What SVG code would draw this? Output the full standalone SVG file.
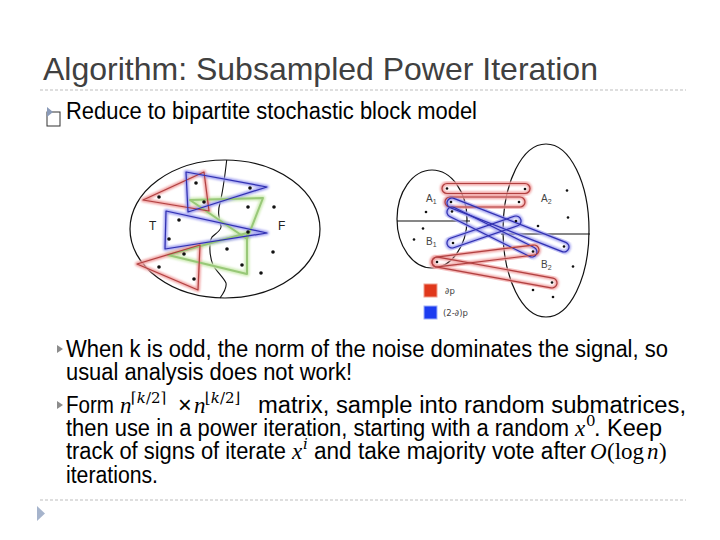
<svg xmlns="http://www.w3.org/2000/svg" width="720" height="540" viewBox="0 0 720 540">
<defs>
<filter id="blur" x="-20%" y="-20%" width="140%" height="140%"><feGaussianBlur stdDeviation="1.2"/></filter>
<style>
.title{font-family:"Liberation Sans",Arial,sans-serif;font-size:32px;fill:#404040}
.body{font-family:"Liberation Sans",Arial,sans-serif;font-size:23.5px;fill:#000}
.mi{font-family:"Liberation Serif","DejaVu Serif",serif;font-style:italic;font-size:23px;fill:#000}
.mr{font-family:"Liberation Serif","DejaVu Serif",serif;font-size:23px;fill:#000}
.sup{font-family:"DejaVu Serif","Liberation Serif",serif;font-size:15px;fill:#000}
.dash{stroke:#bdbdbd;stroke-width:1;stroke-dasharray:3 2}
.bul{fill:#8c8c8c}
.ell{fill:none;stroke:#111;stroke-width:1.2}
.dot{fill:#111}
.lbl{font-family:"Liberation Sans",Arial,sans-serif;font-size:12px;fill:#222}
.lbl2{font-family:"Liberation Sans",Arial,sans-serif;font-size:10px;fill:#444}
.lg{font-family:"DejaVu Sans","Liberation Sans",sans-serif;font-size:8.5px;fill:#444}
.gr{fill:none;stroke:#f0a0a0;stroke-width:4;filter:url(#blur);stroke-linejoin:round}
.gb{fill:none;stroke:#a0a0f0;stroke-width:4;filter:url(#blur);stroke-linejoin:round}
.gg{fill:none;stroke:#d0ecb8;stroke-width:5;filter:url(#blur);stroke-linejoin:round}
.tr{fill:none;stroke:#b04040;stroke-width:1.2;stroke-linejoin:round}
.tb{fill:none;stroke:#3030b0;stroke-width:1.2;stroke-linejoin:round}
.tg{fill:none;stroke:#98c878;stroke-width:2;stroke-linejoin:round}
</style>
</defs>
<rect width="720" height="540" fill="#fff"/>

<g id="header">
<text class="title" x="43" y="80">Algorithm: Subsampled Power Iteration</text>
<line class="dash" x1="40" y1="90" x2="686" y2="90"/>
</g>

<g id="bullet-reduce">
<rect x="47" y="112" width="13" height="14" fill="none" stroke="#333" stroke-width="1"/>
<polygon points="47,107 47,117 53,112" fill="#8a9ab8"/>
<text class="body" x="66" y="119" textLength="411" lengthAdjust="spacingAndGlyphs">Reduce to bipartite stochastic block model</text>
</g>

<g id="left-figure">
<ellipse class="ell" cx="225" cy="229" rx="95" ry="69"/>
<path fill="none" stroke="#111" stroke-width="1.1" d="M226.7,160 C225,175 222,195 220,203 C218,210 218,215 221,226 C222,230 215,234 212,237 C209,242 209,255 213,265 C216,271 224,278 226,283 C227,288 223,294 220,298"/>
<g id="triangles-glow">
<polygon class="gg" points="190,200 263,198 247,239"/>
<polygon class="gg" points="168,255 247,233 247,274"/>
<polygon class="gr" points="143,200 204,172 209,211"/>
<polygon class="gb" points="186,172 267,187 188,212"/>
<polygon class="gb" points="166,211 267,233 165,249"/>
<polygon class="gr" points="137,264 200,245 198,290"/>
</g>
<g id="triangles">
<polygon class="tg" points="190,200 263,198 247,239"/>
<polygon class="tg" points="168,255 247,233 247,274"/>
<polygon class="tr" points="143,200 204,172 209,211"/>
<polygon class="tb" points="186,172 267,187 188,212"/>
<polygon class="tb" points="166,211 267,233 165,249"/>
<polygon class="tr" points="137,264 200,245 198,290"/>
</g>
<g id="left-dots">
<circle class="dot" cx="196" cy="183" r="1.8"/>
<circle class="dot" cx="250" cy="188" r="1.8"/>
<circle class="dot" cx="159" cy="197" r="1.8"/>
<circle class="dot" cx="204" cy="202" r="1.8"/>
<circle class="dot" cx="248" cy="207" r="1.8"/>
<circle class="dot" cx="274" cy="207" r="1.8"/>
<circle class="dot" cx="179" cy="220" r="1.8"/>
<circle class="dot" cx="248" cy="232" r="1.8"/>
<circle class="dot" cx="169" cy="239" r="1.8"/>
<circle class="dot" cx="227" cy="249" r="1.8"/>
<circle class="dot" cx="273" cy="252" r="1.8"/>
<circle class="dot" cx="184" cy="254" r="1.8"/>
<circle class="dot" cx="159" cy="267" r="1.8"/>
<circle class="dot" cx="242" cy="265" r="1.8"/>
<circle class="dot" cx="261" cy="273" r="1.8"/>
<circle class="dot" cx="194" cy="279" r="1.8"/>
</g>
<text class="lbl" x="149" y="230">T</text>
<text class="lbl" x="278" y="230">F</text>
</g>

<g id="right-figure">
<ellipse class="ell" cx="432" cy="219" rx="35" ry="49"/>
<ellipse class="ell" cx="546" cy="230.5" rx="43" ry="86.5"/>
<line x1="397" y1="221" x2="470" y2="221" stroke="#111" stroke-width="1.2"/>
<line x1="501" y1="234" x2="590" y2="234" stroke="#111" stroke-width="1.2"/>
<g id="loops-glow">
<rect class="gr" x="442" y="183.5" width="88" height="10" rx="5"/>
<rect class="gr" x="445" y="197" width="80" height="10" rx="5"/>
<rect class="gb" x="-5" y="-5" width="130.3" height="10" rx="5" transform="translate(452,203) rotate(21.45)"/>
<rect class="gb" x="-5" y="-5" width="99.4" height="10" rx="5" transform="translate(452,212) rotate(26.57)"/>
<rect class="gb" x="-5" y="-5" width="77.7" height="10" rx="5" transform="translate(452,243) rotate(-18.97)"/>
<rect class="gr" x="-5" y="-5" width="107.7" height="10" rx="5" transform="translate(437,262) rotate(-7.05)"/>
<rect class="gr" x="-5" y="-5" width="126.9" height="10" rx="5" transform="translate(437,262) rotate(10.35)"/>
</g>
<g id="loops">
<rect class="tr" x="442" y="183.5" width="88" height="10" rx="5"/>
<rect class="tr" x="445" y="197" width="80" height="10" rx="5"/>
<rect class="tb" x="-5" y="-5" width="130.3" height="10" rx="5" transform="translate(452,203) rotate(21.45)"/>
<rect class="tb" x="-5" y="-5" width="99.4" height="10" rx="5" transform="translate(452,212) rotate(26.57)"/>
<rect class="tb" x="-5" y="-5" width="77.7" height="10" rx="5" transform="translate(452,243) rotate(-18.97)"/>
<rect class="tr" x="-5" y="-5" width="107.7" height="10" rx="5" transform="translate(437,262) rotate(-7.05)"/>
<rect class="tr" x="-5" y="-5" width="126.9" height="10" rx="5" transform="translate(437,262) rotate(10.35)"/>
</g>
<g id="right-dots">
<circle class="dot" cx="447" cy="188.5" r="1.3"/>
<circle class="dot" cx="525" cy="189" r="1.3"/>
<circle class="dot" cx="451" cy="202" r="1.3"/>
<circle class="dot" cx="519" cy="202" r="1.3"/>
<circle class="dot" cx="452" cy="211.5" r="1.3"/>
<circle class="dot" cx="564" cy="246.5" r="1.3"/>
<circle class="dot" cx="533" cy="251.5" r="1.3"/>
<circle class="dot" cx="453" cy="243" r="1.3"/>
<circle class="dot" cx="516" cy="221" r="1.3"/>
<circle class="dot" cx="437" cy="262" r="1.3"/>
<circle class="dot" cx="552" cy="282.5" r="1.3"/>
<circle class="dot" cx="426" cy="212" r="1.3"/>
<circle class="dot" cx="423" cy="228.5" r="1.3"/>
<circle class="dot" cx="414" cy="239.5" r="1.3"/>
<circle class="dot" cx="567" cy="190.5" r="1.3"/>
<circle class="dot" cx="568" cy="217.5" r="1.3"/>
<circle class="dot" cx="538" cy="226" r="1.3"/>
<circle class="dot" cx="573" cy="266.5" r="1.3"/>
<circle class="dot" cx="533" cy="290" r="1.3"/>
<circle class="dot" cx="553" cy="297" r="1.3"/>
</g>
<text class="lbl2" x="426" y="202">A<tspan font-size="7" dy="2">1</tspan></text>
<text class="lbl2" x="541" y="202">A<tspan font-size="7" dy="2">2</tspan></text>
<text class="lbl2" x="426" y="245">B<tspan font-size="7" dy="2">1</tspan></text>
<text class="lbl2" x="541" y="268">B<tspan font-size="7" dy="2">2</tspan></text>
<g id="legend">
<rect x="424" y="284" width="13" height="13" fill="#e0381c" stroke="#f0a090" stroke-width="1"/>
<text class="lg" x="445" y="294">∂p</text>
<rect x="424" y="306" width="13" height="13" fill="#1c3cf0" stroke="#a0b0f8" stroke-width="1"/>
<text class="lg" x="443" y="316">(2-∂)p</text>
</g>
</g>

<g id="bullet-odd">
<polygon class="bul" points="57,345 57,353 63,349"/>
<text class="body" x="66" y="357" textLength="602" lengthAdjust="spacingAndGlyphs">When k is odd, the norm of the noise dominates the signal, so</text>
<text class="body" x="66" y="380" textLength="286" lengthAdjust="spacingAndGlyphs">usual analysis does not work!</text>
</g>

<g id="bullet-form">
<polygon class="bul" points="57,401 57,409 63,405"/>
<text class="body" x="66" y="413" textLength="48" lengthAdjust="spacingAndGlyphs">Form</text>
<text class="mi" x="120" y="413">n</text>
<text class="sup" x="131" y="403">⌈<tspan font-style="italic">k</tspan>/2⌉</text>
<text class="body" x="178" y="413">×</text>
<text class="mi" x="194" y="413">n</text>
<text class="sup" x="205" y="403">⌊<tspan font-style="italic">k</tspan>/2⌋</text>
<text class="body" x="258" y="413" textLength="428" lengthAdjust="spacingAndGlyphs">matrix, sample into random submatrices,</text>
<text class="body" x="66" y="436" textLength="503" lengthAdjust="spacingAndGlyphs">then use in a power iteration, starting with a random</text>
<text class="mi" x="575" y="436">x</text>
<text class="sup" x="586" y="426">0</text>
<text class="body" x="594" y="436" textLength="68" lengthAdjust="spacingAndGlyphs">. Keep</text>
<text class="body" x="66" y="459" textLength="220" lengthAdjust="spacingAndGlyphs">track of signs of iterate</text>
<text class="mi" x="292" y="459">x</text>
<text class="sup" x="303" y="449" font-style="italic">i</text>
<text class="body" x="314" y="459" textLength="272" lengthAdjust="spacingAndGlyphs">and take majority vote after</text>
<text class="mi" x="590" y="459">O</text>
<text class="mr" x="607" y="459">(log</text>
<text class="mi" x="647" y="459">n</text>
<text class="mr" x="659" y="459">)</text>
<text class="body" x="66" y="483" textLength="92" lengthAdjust="spacingAndGlyphs">iterations.</text>
</g>

<g id="footer">
<line class="dash" x1="40" y1="500" x2="686" y2="500"/>
<polygon points="37,506 37,521 45,513.5" fill="#a6b4cc"/>
</g>
</svg>
